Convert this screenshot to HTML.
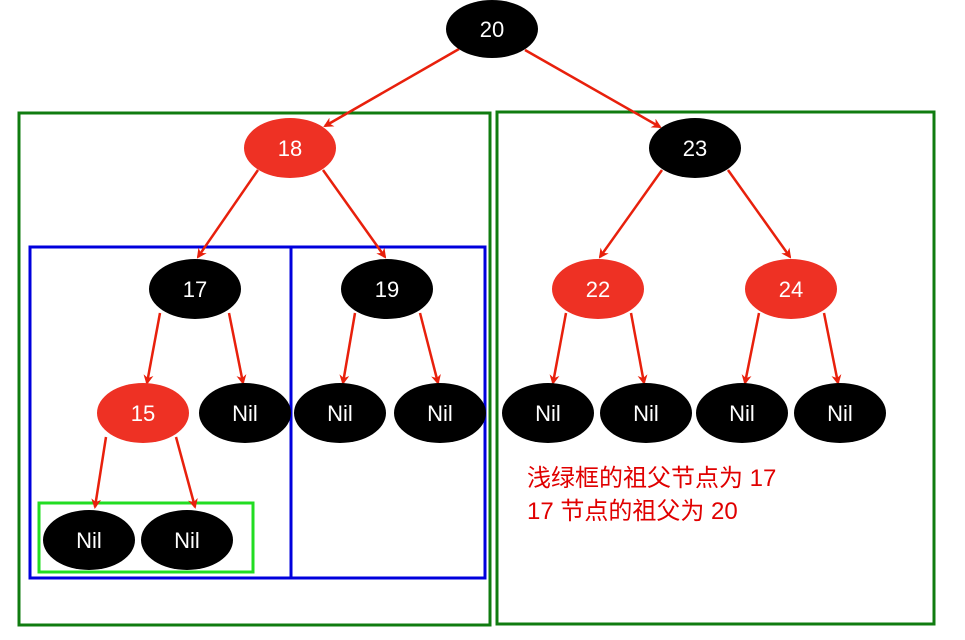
<!DOCTYPE html>
<html><head><meta charset="utf-8"><style>
html,body{margin:0;padding:0;background:#fff;width:965px;height:640px;overflow:hidden}
svg text{font-family:"Liberation Sans","Noto Sans CJK SC",sans-serif}
</style></head><body>
<svg width="965" height="640" viewBox="0 0 965 640" xmlns="http://www.w3.org/2000/svg">
<defs><marker id="a" markerWidth="10" markerHeight="10" refX="8" refY="5" orient="auto" markerUnits="userSpaceOnUse"><path d="M0,0 L10,5 L0,10 L3,5 z" fill="#e8200c"/></marker></defs>
<g fill="none" stroke-width="3">
<rect x="19" y="113" width="471" height="512" stroke="#107c10"/>
<rect x="497" y="112" width="437" height="512" stroke="#107c10"/>
<rect x="30" y="247" width="261" height="331" stroke="#0000dd"/>
<rect x="291" y="247" width="194" height="331" stroke="#0000dd"/>
<rect x="39" y="503" width="214" height="69" stroke="#22dd22"/>
</g>
<g stroke="#e8200c" stroke-width="2.5" marker-end="url(#a)">
<line x1="459" y1="49" x2="325" y2="126"/>
<line x1="525" y1="50" x2="660" y2="127"/>
<line x1="258" y1="170" x2="198" y2="257"/>
<line x1="323" y1="170" x2="385" y2="257"/>
<line x1="662" y1="170" x2="600" y2="257"/>
<line x1="728" y1="170" x2="790" y2="257"/>
<line x1="160" y1="313" x2="147" y2="383"/>
<line x1="229" y1="313" x2="243" y2="383"/>
<line x1="355" y1="313" x2="343" y2="383"/>
<line x1="420" y1="313" x2="438" y2="383"/>
<line x1="566" y1="313" x2="553" y2="383"/>
<line x1="631" y1="313" x2="644" y2="383"/>
<line x1="759" y1="313" x2="745" y2="383"/>
<line x1="824" y1="313" x2="838" y2="383"/>
<line x1="106" y1="437" x2="95" y2="507"/>
<line x1="176" y1="437" x2="195" y2="507"/>
</g>
<g font-size="22" fill="#fff" text-anchor="middle">
<ellipse cx="492" cy="29" rx="46" ry="29" fill="#000"/><text x="492" y="37">20</text>
<ellipse cx="290" cy="148" rx="46" ry="30" fill="#ee3124"/><text x="290" y="156">18</text>
<ellipse cx="695" cy="148" rx="46" ry="30" fill="#000"/><text x="695" y="156">23</text>
<ellipse cx="195" cy="289" rx="46" ry="30" fill="#000"/><text x="195" y="297">17</text>
<ellipse cx="387" cy="289" rx="46" ry="30" fill="#000"/><text x="387" y="297">19</text>
<ellipse cx="598" cy="289" rx="46" ry="30" fill="#ee3124"/><text x="598" y="297">22</text>
<ellipse cx="791" cy="289" rx="46" ry="30" fill="#ee3124"/><text x="791" y="297">24</text>
<ellipse cx="143" cy="413" rx="46" ry="30" fill="#ee3124"/><text x="143" y="421">15</text>
<ellipse cx="245" cy="413" rx="46" ry="30" fill="#000"/><text x="245" y="421">Nil</text>
<ellipse cx="340" cy="413" rx="46" ry="30" fill="#000"/><text x="340" y="421">Nil</text>
<ellipse cx="440" cy="413" rx="46" ry="30" fill="#000"/><text x="440" y="421">Nil</text>
<ellipse cx="548" cy="413" rx="46" ry="30" fill="#000"/><text x="548" y="421">Nil</text>
<ellipse cx="646" cy="413" rx="46" ry="30" fill="#000"/><text x="646" y="421">Nil</text>
<ellipse cx="742" cy="413" rx="46" ry="30" fill="#000"/><text x="742" y="421">Nil</text>
<ellipse cx="840" cy="413" rx="46" ry="30" fill="#000"/><text x="840" y="421">Nil</text>
<ellipse cx="89" cy="540" rx="46" ry="30" fill="#000"/><text x="89" y="548">Nil</text>
<ellipse cx="187" cy="540" rx="46" ry="30" fill="#000"/><text x="187" y="548">Nil</text>
</g>
<g font-size="24" fill="#e00000">
<text x="527" y="486">浅绿框的祖父节点为 17</text>
<text x="527" y="519">17 节点的祖父为 20</text>
</g>
</svg>
</body></html>
